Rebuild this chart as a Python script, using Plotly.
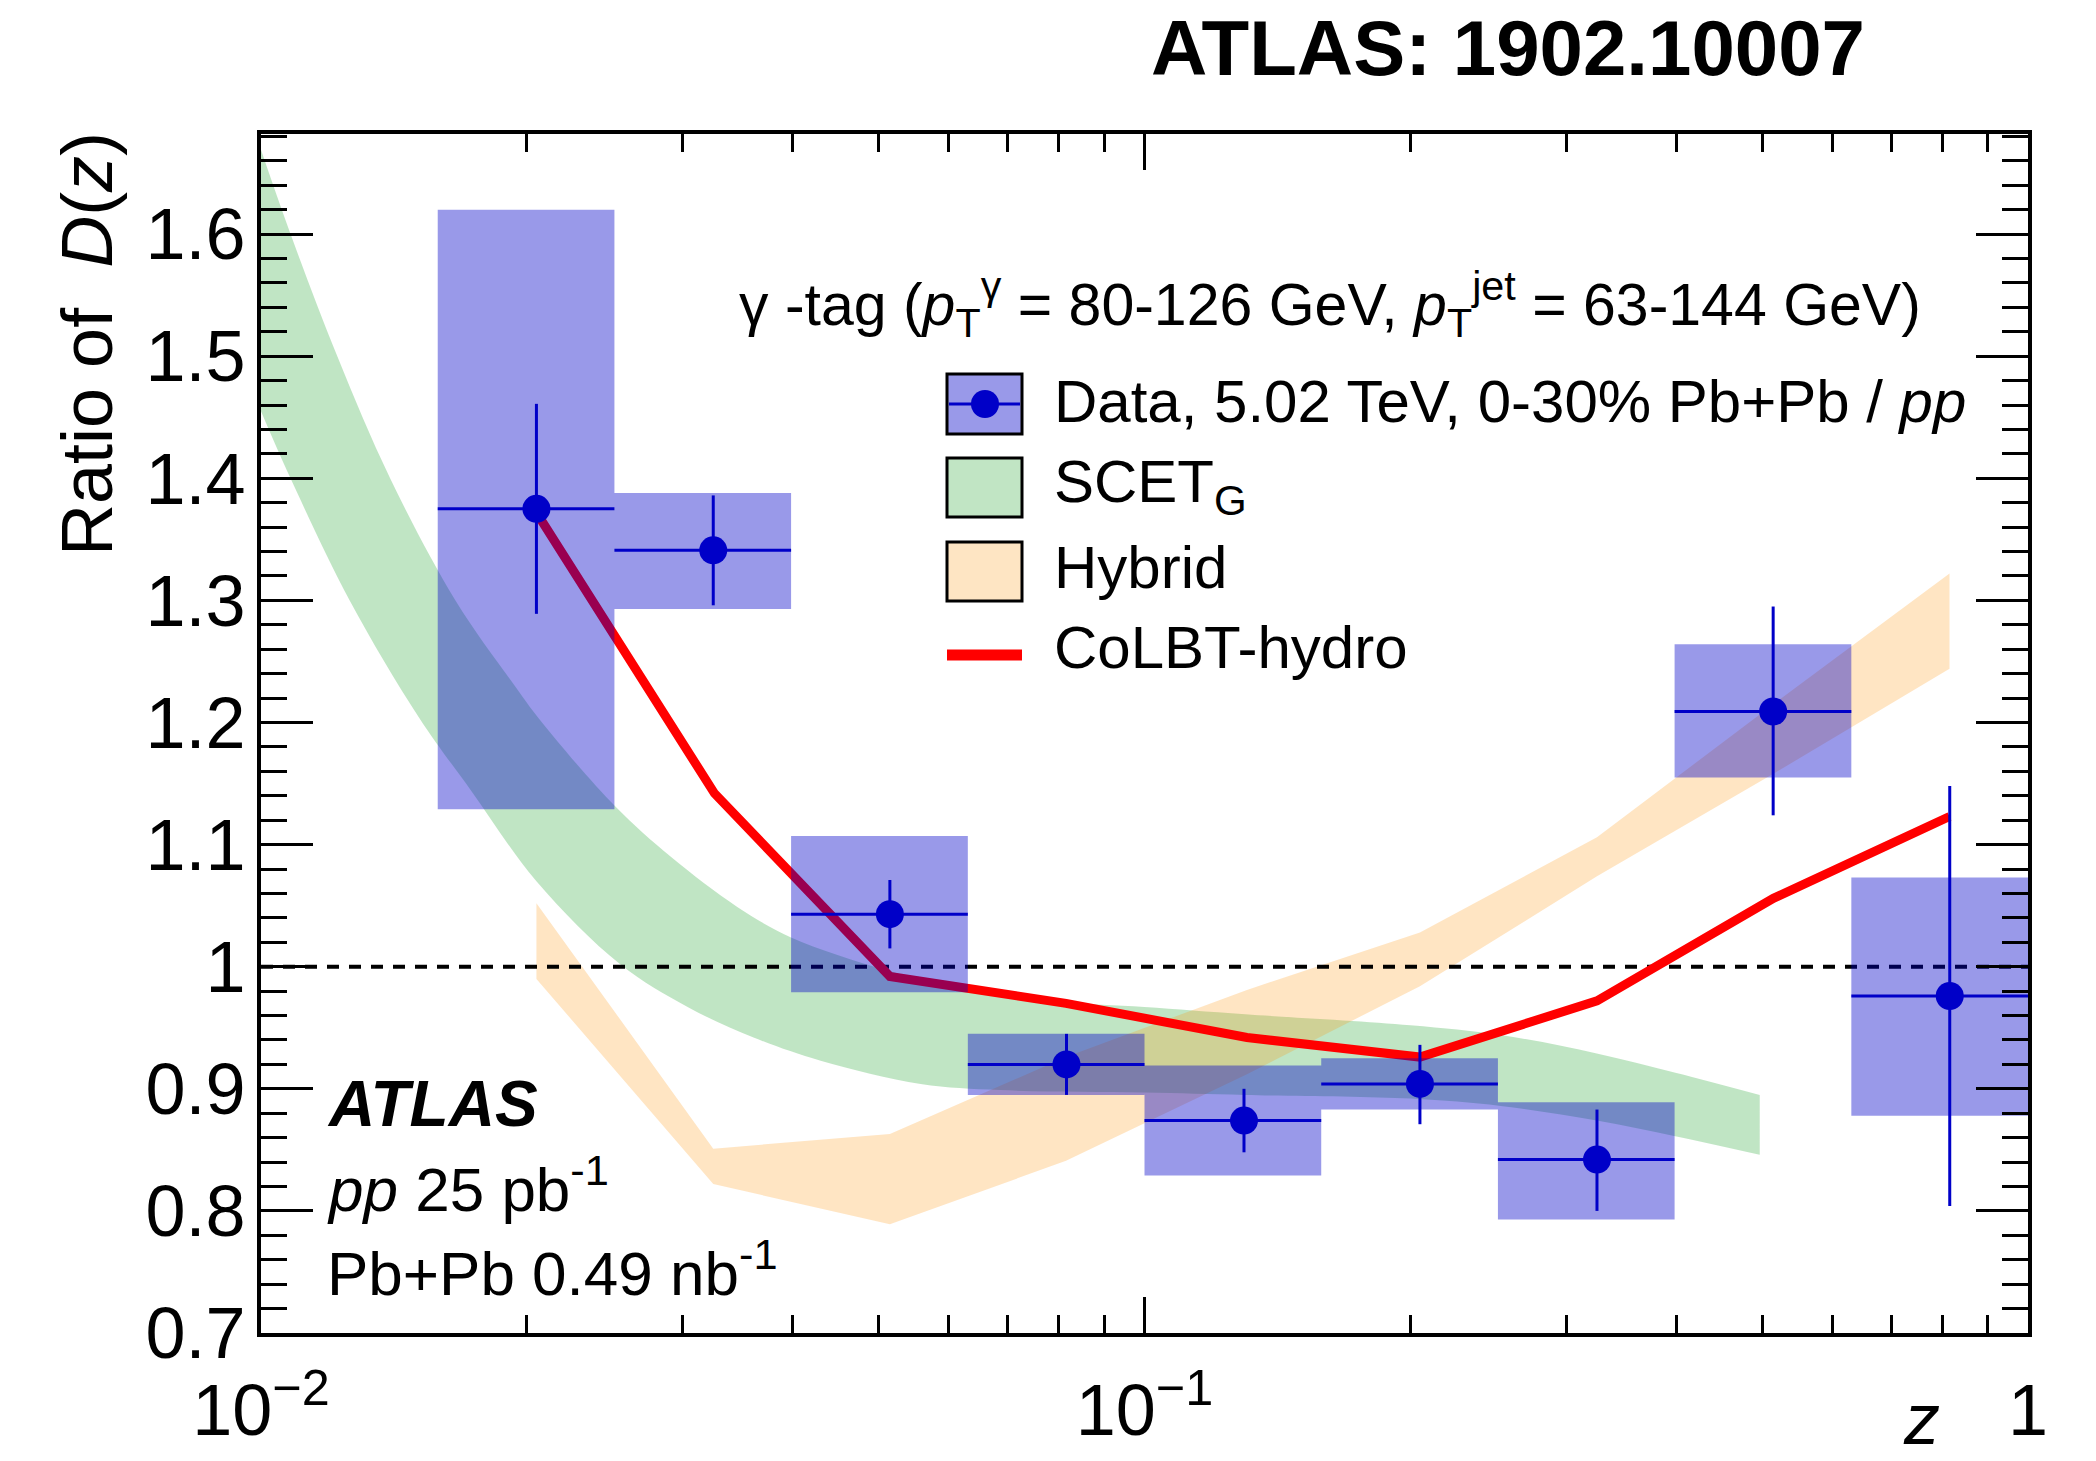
import plotly.graph_objects as go

# ---------------- data ----------------
# bin edges in z (log-uniform binning)
z_edges = [0.01585, 0.02512, 0.03981, 0.06310, 0.1000, 0.1585, 0.2512, 0.3981, 0.6310, 1.0000]
# measured ratio Pb+Pb / pp
z_data = [0.0205, 0.0325, 0.0515, 0.0816, 0.1296, 0.2050, 0.3252, 0.5147, 0.8155]
ratio = [1.375, 1.341, 1.043, 0.920, 0.874, 0.904, 0.842, 1.209, 0.976]
stat_hi = [1.461, 1.386, 1.071, 0.945, 0.900, 0.936, 0.883, 1.295, 1.148]
stat_lo = [1.289, 1.296, 1.015, 0.895, 0.848, 0.871, 0.800, 1.124, 0.804]
sys_hi = [1.620, 1.388, 1.107, 0.945, 0.919, 0.925, 0.889, 1.264, 1.073]
sys_lo = [1.129, 1.293, 0.979, 0.895, 0.829, 0.883, 0.793, 1.155, 0.878]

# SCET_G band (upper and lower edges)
scet_hi_z = [0.0100, 0.0108, 0.0122, 0.0140, 0.0166, 0.0192, 0.0208, 0.0252, 0.0291, 0.0346,
             0.0398, 0.0511, 0.0630, 0.0800, 0.1000, 0.1300, 0.2000, 0.2530, 0.3250, 0.4000, 0.4970]
scet_hi = [1.669, 1.600, 1.500, 1.400, 1.300, 1.234, 1.200, 1.131, 1.090, 1.049,
           1.024, 0.997, 0.980, 0.971, 0.967, 0.961, 0.952, 0.944, 0.929, 0.913, 0.895]
scet_lo_z = [0.0100, 0.0108, 0.0126, 0.0151, 0.0173, 0.0205, 0.0255, 0.0304, 0.0361, 0.0430,
             0.0558, 0.0687, 0.1000, 0.1300, 0.2000, 0.2530, 0.3250, 0.4000, 0.4970]
scet_lo = [1.455, 1.400, 1.300, 1.204, 1.144, 1.070, 1.002, 0.967, 0.942, 0.923,
           0.904, 0.899, 0.897, 0.895, 0.892, 0.886, 0.874, 0.861, 0.846]

# Hybrid model band
hyb_z = [0.0205, 0.0325, 0.0515, 0.0815, 0.1306, 0.2050, 0.3252, 0.5150, 0.8150]
hyb_hi = [1.052, 0.851, 0.863, 0.926, 0.981, 1.028, 1.106, 1.215, 1.322]
hyb_lo = [0.990, 0.822, 0.789, 0.841, 0.912, 0.984, 1.074, 1.158, 1.244]

# CoLBT-hydro curve
colbt_z = [0.0205, 0.0326, 0.0515, 0.0815, 0.1306, 0.2050, 0.3252, 0.5150, 0.8150]
colbt = [1.372, 1.142, 0.992, 0.970, 0.942, 0.926, 0.972, 1.056, 1.123]

unity = 1.0

# axis ticks
y_tickvals = [0.7, 0.8, 0.9, 1.0, 1.1, 1.2, 1.3, 1.4, 1.5, 1.6]
y_ticktext = ["0.7", "0.8", "0.9", "1", "1.1", "1.2", "1.3", "1.4", "1.5", "1.6"]
x_tickvals = [0.01, 0.1, 1.0]
x_ticktext = ["10<sup>\u22122</sup>", "10<sup>\u22121</sup>", "1"]
x_minor = [0.02, 0.03, 0.04, 0.05, 0.06, 0.07, 0.08, 0.09,
           0.2, 0.3, 0.4, 0.5, 0.6, 0.7, 0.8, 0.9]

# ---------------- styling ----------------
FONT = "Liberation Sans, Arial, Helvetica, sans-serif"
BLUE = "#0000C8"
BOX_FILL = "rgba(0,0,200,0.4)"
GREEN_FILL = "rgba(48,168,58,0.3)"
ORANGE_FILL = "rgba(255,144,0,0.235)"

WIDTH, HEIGHT = 2096, 1461
L, R, T, B = 261, 2028, 134, 1333
PW, PH = R - L, B - T


def fx(X):
    return (X - L) / PW


def fy(Y):
    return (B - Y) / PH


fig = go.Figure()

# SCET_G band: smooth upper edge, then lower edge filled up to it
fig.add_trace(go.Scatter(
    x=scet_hi_z, y=scet_hi, mode="lines",
    line=dict(width=0, shape="spline", color="rgba(0,0,0,0)"),
    hoverinfo="skip", showlegend=False))
fig.add_trace(go.Scatter(
    x=scet_lo_z, y=scet_lo, mode="lines", fill="tonexty", fillcolor=GREEN_FILL,
    line=dict(width=0, shape="spline", color="rgba(0,0,0,0)"),
    hoverinfo="skip", showlegend=False))

# Hybrid band
fig.add_trace(go.Scatter(
    x=hyb_z + hyb_z[::-1], y=hyb_hi + hyb_lo[::-1],
    fill="toself", fillcolor=ORANGE_FILL, mode="lines", line=dict(width=0),
    hoverinfo="skip", showlegend=False))

# reference line at unity
fig.add_trace(go.Scatter(
    x=[x_tickvals[0], x_tickvals[-1]], y=[unity, unity], mode="lines",
    line=dict(color="black", width=4, dash="12px,10px"),
    hoverinfo="skip", showlegend=False))

# CoLBT-hydro
fig.add_trace(go.Scatter(
    x=colbt_z, y=colbt, mode="lines", line=dict(color="#FF0000", width=9),
    showlegend=False))

# systematic uncertainty boxes
bx, by = [], []
for i in range(len(z_data)):
    x0, x1 = z_edges[i], z_edges[i + 1]
    bx += [x0, x1, x1, x0, x0, None]
    by += [sys_lo[i], sys_lo[i], sys_hi[i], sys_hi[i], sys_lo[i], None]
fig.add_trace(go.Scatter(
    x=bx, y=by, fill="toself", fillcolor=BOX_FILL, mode="lines",
    line=dict(width=0), hoverinfo="skip", showlegend=False))

# data points with statistical errors and bin widths
fig.add_trace(go.Scatter(
    x=z_data, y=ratio, mode="markers",
    marker=dict(color=BLUE, size=28, line=dict(width=0)),
    error_y=dict(type="data", symmetric=False,
                 array=[h - v for h, v in zip(stat_hi, ratio)],
                 arrayminus=[v - l for v, l in zip(ratio, stat_lo)],
                 color=BLUE, thickness=3, width=0),
    error_x=dict(type="data", symmetric=False,
                 array=[z_edges[i + 1] - z for i, z in enumerate(z_data)],
                 arrayminus=[z - z_edges[i] for i, z in enumerate(z_data)],
                 color=BLUE, thickness=3, width=0),
    showlegend=False))

axis_common = dict(
    showline=True, linecolor="black", linewidth=4, mirror="allticks",
    ticks="inside", tickcolor="black", tickwidth=3,
    showgrid=False, zeroline=False,
    tickfont=dict(family=FONT, size=72, color="black"),
)

fig.update_xaxes(
    type="log", range=[-2, 0], tickmode="array",
    tickvals=x_tickvals, ticktext=x_ticktext, ticklen=36,
    ticklabelstandoff=12,
    minor=dict(tickmode="array", tickvals=x_minor, ticks="inside",
               ticklen=18, tickwidth=3, tickcolor="black", showgrid=False),
    **axis_common)

fig.update_yaxes(
    range=[0.7, 1.682], tickmode="array",
    tickvals=y_tickvals, ticktext=y_ticktext, ticklen=52,
    ticklabelstandoff=-3,
    minor=dict(tickmode="linear", tick0=0.7, dtick=0.02, ticks="inside",
               ticklen=26, tickwidth=3, tickcolor="black", showgrid=False),
    **axis_common)

ann = []


def text(X, Y, s, size, xanchor="left", yanchor="middle", angle=0):
    ann.append(dict(x=fx(X), y=fy(Y), xref="paper", yref="paper", text=s,
                    showarrow=False, xanchor=xanchor, yanchor=yanchor,
                    textangle=angle,
                    font=dict(family=FONT, size=size, color="black")))


# title
text(1508, 75 - 0.35 * 78, "<b>ATLAS: 1902.10007</b>", 78, xanchor="center")
# axis titles
text(87, 344, "Ratio of  <i>D</i>(<i>z</i>)", 72, xanchor="center", angle=-90)
text(1921, 1444 - 0.35 * 72, "<i>z</i>", 72, xanchor="center")
# ATLAS labels
text(325, 1126 - 0.35 * 64, "<b><i>ATLAS</i></b>", 64)
text(325, 1207 - 0.35 * 62, "<i>pp</i> 25 pb<sup>-1</sup>", 62)
text(325, 1291 - 0.35 * 62, "Pb+Pb 0.49 nb<sup>-1</sup>", 62)
# legend header
text(1923, 325 - 0.35 * 59,
     "\u03b3 -tag (<i>p</i><sub>T</sub><sup>\u03b3</sup> = 80-126 GeV, "
     "<i>p</i><sub>T</sub><sup>jet</sup> = 63-144 GeV)", 59, xanchor="right")
# legend entries
LX = 1052
text(LX, 422 - 0.35 * 60, "Data, 5.02 TeV, 0-30% Pb+Pb / <i>pp</i>", 60)
text(LX, 507 - 0.35 * 60, "SCET<sub>G</sub>", 60)
text(LX, 588 - 0.35 * 60, "Hybrid", 60)
text(LX, 668 - 0.35 * 60, "CoLBT-hydro", 60)

shapes = []


def rect(X0, Y0, X1, Y1, fill, lw=3):
    shapes.append(dict(type="rect", xref="paper", yref="paper",
                       x0=fx(X0), x1=fx(X1), y0=fy(Y1), y1=fy(Y0),
                       fillcolor=fill, line=dict(color="black", width=lw),
                       layer="above"))


SX0, SX1 = 947, 1022
rect(SX0, 374, SX1, 434, "rgb(153,153,233)")
shapes.append(dict(type="line", xref="paper", yref="paper",
                   x0=fx(SX0 + 2), x1=fx(SX1 - 2), y0=fy(404), y1=fy(404),
                   line=dict(color=BLUE, width=3), layer="above"))
shapes.append(dict(type="circle", xref="paper", yref="paper",
                   x0=fx(985 - 14), x1=fx(985 + 14), y0=fy(404 + 14), y1=fy(404 - 14),
                   fillcolor=BLUE, line=dict(width=0), layer="above"))
rect(SX0, 458, SX1, 517, "rgb(193,229,196)")
rect(SX0, 542, SX1, 601, "rgb(254,229,195)")
shapes.append(dict(type="line", xref="paper", yref="paper",
                   x0=fx(SX0), x1=fx(SX1), y0=fy(655), y1=fy(655),
                   line=dict(color="#FF0000", width=11), layer="above"))

fig.update_layout(
    width=WIDTH, height=HEIGHT,
    margin=dict(l=L, r=WIDTH - R, t=T, b=HEIGHT - B, pad=0, autoexpand=False),
    paper_bgcolor="white", plot_bgcolor="white",
    showlegend=False, annotations=ann, shapes=shapes,
    font=dict(family=FONT, color="black"),
)

fig.write_html("out.html")
